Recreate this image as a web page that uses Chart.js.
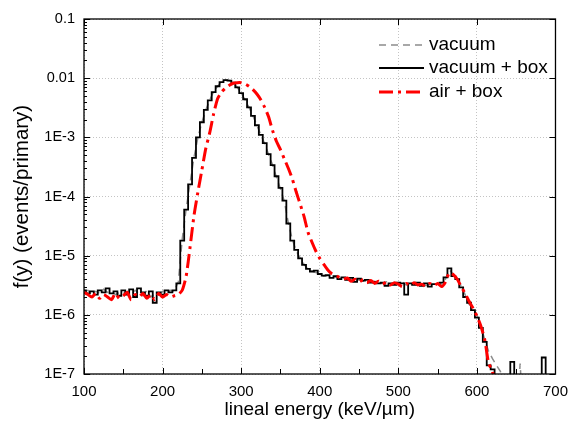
<!DOCTYPE html>
<html>
<head>
<meta charset="utf-8">
<script src="https://cdn.jsdelivr.net/npm/chart.js@4"></script>
<style>
  html, body { margin: 0; padding: 0; background: #fff; }
  canvas { display: block; }
</style>
</head>
<body>
<canvas id="graphCanvas" width="577" height="424"></canvas>
<script>
// bin centres (keV/um)
var energy = [
    100, 105, 110, 115, 120, 125, 130, 135, 140, 145,
    150, 155, 160, 165, 170, 175, 180, 185, 190, 195,
    200, 205, 210, 215, 220, 225, 230, 235, 240, 245,
    250, 255, 260, 265, 270, 275, 280, 285, 290, 295,
    300, 305, 310, 315, 320, 325, 330, 335, 340, 345,
    350, 355, 360, 365, 370, 375, 380, 385, 390, 395,
    400, 405, 410, 415, 420, 425, 430, 435, 440, 445,
    450, 455, 460, 465, 470, 475, 480, 485, 490, 495,
    500, 505, 510, 515, 520, 525, 530, 535, 540, 545,
    550, 555, 560, 565, 570, 575, 580, 585, 590, 595,
    600, 605, 610, 615, 620, 625, 630, 635, 640, 645,
    650, 655, 660, 665, 670, 675, 680, 685, 690, 695,
    700
];

// f(y), events/primary  (1e-8 = empty bin, below the axis)
var vacuum = [
    2.5e-6, 2.6e-6, 2.2e-6, 2.5e-6, 2.3e-6, 2.7e-6, 2.4e-6, 2.5e-6, 2.2e-6, 2.4e-6,
    2.3e-6, 2.5e-6, 2.2e-6, 2.6e-6, 2.3e-6, 2.1e-6, 2.6e-6, 2.0e-6, 2.3e-6, 2.2e-6,
    2.5e-6, 2.3e-6, 2.6e-6, 2.5e-6, 3.6e-6, 1.9e-5, 6.2e-5, 1.7e-4, 4.6e-4, 1.0e-3,
    1.8e-3, 2.9e-3, 4.3e-3, 5.9e-3, 7.3e-3, 8.6e-3, 9.3e-3, 9.1e-3, 8.3e-3, 7.0e-3,
    5.6e-3, 4.3e-3, 3.2e-3, 2.3e-3, 1.6e-3, 1.1e-3, 7.8e-4, 5.1e-4, 3.4e-4, 2.1e-4,
    1.35e-4, 8.2e-5, 3.6e-5, 1.9e-5, 1.2e-5, 9.2e-6, 7.2e-6, 5.8e-6, 5.5e-6, 5.2e-6,
    5.0e-6, 4.5e-6, 4.6e-6, 4.4e-6, 4.3e-6, 4.1e-6, 4.2e-6, 4.0e-6, 3.9e-6, 3.8e-6,
    3.9e-6, 3.7e-6, 3.8e-6, 3.6e-6, 3.7e-6, 3.5e-6, 3.4e-6, 3.6e-6, 3.3e-6, 3.4e-6,
    3.4e-6, 3.6e-6, 3.2e-6, 3.3e-6, 3.4e-6, 3.2e-6, 3.5e-6, 3.1e-6, 3.3e-6, 3.2e-6,
    3.4e-6, 3.3e-6, 4.0e-6, 5.8e-6, 4.8e-6, 3.9e-6, 3.1e-6, 2.2e-6, 1.5e-6, 1.3e-6,
    1.0e-6, 6.5e-7, 3.8e-7, 2.4e-7, 1.8e-7, 1.4e-7, 1.1e-7, 1e-8, 1e-8, 1e-8,
    1e-8, 1.5e-7, 1e-8, 1e-8, 1e-8, 1e-8, 1e-8, 1e-8, 1e-8, 1e-8,
    1e-8
];

var vacuumBox = [
    2.6e-6, 2.3e-6, 2.5e-6, 2.2e-6, 2.6e-6, 2.4e-6, 2.8e-6, 2.3e-6, 2.5e-6, 2.1e-6,
    2.6e-6, 2.2e-6, 2.7e-6, 2.0e-6, 2.8e-6, 2.4e-6, 2.1e-6, 2.5e-6, 1.6e-6, 2.4e-6,
    2.2e-6, 2.6e-6, 2.4e-6, 2.6e-6, 3.4e-6, 1.8e-5, 6.0e-5, 1.6e-4, 4.5e-4, 1.0e-3,
    1.8e-3, 2.9e-3, 4.2e-3, 5.8e-3, 7.3e-3, 8.6e-3, 9.3e-3, 9.1e-3, 8.4e-3, 7.0e-3,
    5.6e-3, 4.4e-3, 3.2e-3, 2.3e-3, 1.6e-3, 1.1e-3, 8.0e-4, 5.2e-4, 3.4e-4, 2.2e-4,
    1.4e-4, 8.5e-5, 3.5e-5, 1.8e-5, 1.25e-5, 9.0e-6, 7.0e-6, 6.0e-6, 5.4e-6, 5.6e-6,
    4.9e-6, 4.6e-6, 4.7e-6, 4.2e-6, 4.5e-6, 4.0e-6, 4.3e-6, 3.9e-6, 4.2e-6, 3.6e-6,
    4.1e-6, 3.8e-6, 3.9e-6, 3.5e-6, 3.6e-6, 3.4e-6, 3.5e-6, 3.1e-6, 3.4e-6, 3.2e-6,
    3.5e-6, 3.4e-6, 2.2e-6, 3.4e-6, 3.2e-6, 3.5e-6, 3.1e-6, 3.4e-6, 3.0e-6, 3.3e-6,
    3.3e-6, 3.5e-6, 4.3e-6, 6.1e-6, 4.5e-6, 4.0e-6, 2.9e-6, 2.0e-6, 1.6e-6, 1.2e-6,
    9.0e-7, 6.0e-7, 3.5e-7, 1.4e-7, 1.2e-7, 1e-8, 1e-8, 1e-8, 1e-8, 1.6e-7,
    1e-8, 1e-8, 1e-8, 1e-8, 1e-8, 1e-8, 1e-8, 1.9e-7, 1e-8, 1e-8,
    1e-8
];

var airBox = [
    2.4e-6, 2.2e-6, 2.0e-6, 2.3e-6, 1.9e-6, 2.2e-6, 2.0e-6, 1.8e-6, 2.3e-6, 1.9e-6,
    2.1e-6, 2.4e-6, 1.8e-6, 2.2e-6, 2.0e-6, 2.3e-6, 1.9e-6, 2.2e-6, 1.8e-6, 2.3e-6,
    2.0e-6, 2.2e-6, 2.0e-6, 2.1e-6, 2.2e-6, 2.6e-6, 4.5e-6, 1.4e-5, 4.8e-5, 1.2e-4,
    2.8e-4, 6.5e-4, 1.2e-3, 2.5e-3, 4.5e-3, 5.8e-3, 6.8e-3, 7.6e-3, 8.2e-3, 8.4e-3,
    8.4e-3, 8.0e-3, 7.3e-3, 6.4e-3, 5.4e-3, 4.3e-3, 3.2e-3, 2.2e-3, 1.3e-3, 8.5e-4,
    6.2e-4, 4.3e-4, 3.0e-4, 2.0e-4, 1.2e-4, 7.5e-5, 4.6e-5, 2.5e-5, 1.7e-5, 1.2e-5,
    9.0e-6, 7.2e-6, 5.8e-6, 5.0e-6, 4.6e-6, 4.3e-6, 4.0e-6, 4.2e-6, 3.7e-6, 4.0e-6,
    3.6e-6, 3.9e-6, 3.5e-6, 3.8e-6, 3.4e-6, 3.7e-6, 3.3e-6, 3.6e-6, 3.2e-6, 3.5e-6,
    3.3e-6, 3.0e-6, 3.4e-6, 3.1e-6, 3.5e-6, 3.2e-6, 3.3e-6, 3.0e-6, 3.4e-6, 3.1e-6,
    3.4e-6, 3.0e-6, 3.6e-6, 5.2e-6, 4.8e-6, 4.0e-6, 3.0e-6, 2.3e-6, 1.7e-6, 1.3e-6,
    9.5e-7, 6.5e-7, 3.8e-7, 1.5e-7, 1.1e-7, 1e-8, 1e-8, 1e-8, 1e-8, 1e-8,
    1e-8, 1e-8, 1e-8, 1e-8, 1e-8, 1e-8, 1e-8, 1e-8, 1e-8, 1e-8,
    1e-8
];

var xTickValues = [100, 200, 300, 400, 500, 600, 700];
var xMinorValues = [150, 250, 350, 450, 550, 650];
var yTickValues = [1e-7, 1e-6, 1e-5, 1e-4, 1e-3, 0.01, 0.1];
var yTickLabels = ['1E-7', '1E-6', '1E-5', '1E-4', '1E-3', '0.01', '0.1'];

var FONT = "'Liberation Sans', Arial, sans-serif";
Chart.defaults.color = '#000';
Chart.defaults.font.family = FONT;

function points(values) {
    return energy.map(function (x, i) { return { x: x, y: values[i] }; });
}

// box, inward ticks and the legend
var frameAndLegend = {
    id: 'frameAndLegend',
    afterDraw: function (chart) {
        var ctx = chart.ctx;
        var a = chart.chartArea;
        var xs = chart.scales.x, ys = chart.scales.y;
        ctx.save();
        ctx.strokeStyle = '#000';
        ctx.lineWidth = 1.3;
        ctx.strokeRect(a.left, a.top, a.right - a.left, a.bottom - a.top);

        ctx.lineWidth = 1;
        ctx.beginPath();
        xTickValues.forEach(function (v) {
            var px = Math.round(xs.getPixelForValue(v)) + 0.5;
            ctx.moveTo(px, a.bottom); ctx.lineTo(px, a.bottom - 6);
            ctx.moveTo(px, a.top); ctx.lineTo(px, a.top + 6);
        });
        xMinorValues.forEach(function (v) {
            var px = Math.round(xs.getPixelForValue(v)) + 0.5;
            ctx.moveTo(px, a.bottom); ctx.lineTo(px, a.bottom - 5);
        });
        yTickValues.forEach(function (v, i) {
            var py = Math.round(ys.getPixelForValue(v)) + 0.5;
            ctx.moveTo(a.left, py); ctx.lineTo(a.left + 6, py);
            ctx.moveTo(a.right, py); ctx.lineTo(a.right - 6, py);
            if (i < yTickValues.length - 1) {
                for (var m = 2; m <= 9; m++) {
                    var pm = Math.round(ys.getPixelForValue(v * m)) + 0.5;
                    ctx.moveTo(a.left, pm); ctx.lineTo(a.left + 3, pm);
                }
            }
        });
        ctx.stroke();

        // legend
        var rows = [
            { ds: chart.data.datasets[0], y: 45 },
            { ds: chart.data.datasets[1], y: 68 },
            { ds: chart.data.datasets[2], y: 92 }
        ];
        ctx.font = '19px ' + FONT;
        ctx.textBaseline = 'middle';
        ctx.textAlign = 'left';
        rows.forEach(function (r) {
            ctx.beginPath();
            ctx.strokeStyle = r.ds.borderColor;
            ctx.lineWidth = r.ds.borderWidth;
            ctx.setLineDash(r.ds.borderDash || []);
            ctx.moveTo(379, r.y);
            ctx.lineTo(424, r.y);
            ctx.stroke();
            ctx.setLineDash([]);
            ctx.fillStyle = '#000';
            ctx.fillText(r.ds.label, 429, r.y);
        });
        ctx.restore();
    }
};

var chartdata = {
    datasets: [
        {
            label: 'vacuum',
            data: points(vacuum),
            borderColor: '#8c8c8c',
            borderWidth: 1.5,
            borderDash: [7, 5],
            pointRadius: 0,
            fill: false,
            order: 2
        },
        {
            label: 'vacuum + box',
            data: points(vacuumBox),
            borderColor: '#000000',
            borderWidth: 1.8,
            stepped: 'middle',
            pointRadius: 0,
            fill: false,
            order: 1
        },
        {
            label: 'air + box',
            data: points(airBox),
            borderColor: '#ff0000',
            borderWidth: 3,
            borderDash: [14, 5, 3, 5],
            tension: 0.2,
            pointRadius: 0,
            fill: false,
            order: 0
        }
    ]
};

var graphTarget = document.getElementById('graphCanvas');

var LineGraph = new Chart(graphTarget, {
    type: 'line',
    data: chartdata,
    plugins: [frameAndLegend],
    options: {
        responsive: false,
        animation: false,
        devicePixelRatio: 1,
        layout: { padding: { left: 0, top: 19, right: 12, bottom: 0 } },
        plugins: {
            legend: { display: false },
            tooltip: { enabled: false }
        },
        scales: {
            x: {
                type: 'linear',
                min: 100,
                max: 700,
                afterBuildTicks: function (scale) {
                    scale.ticks = xTickValues.map(function (v) { return { value: v }; });
                },
                afterFit: function (scale) { scale.height = 50; },
                ticks: { font: { size: 15 }, padding: 9, maxRotation: 0 },
                grid: { color: '#c4c4c4', lineWidth: 1, drawTicks: false },
                border: { display: false, dash: [1, 2] },
                title: {
                    display: true,
                    text: 'lineal energy (keV/µm)',
                    font: { size: 19 },
                    padding: { top: 0, bottom: 3 }
                }
            },
            y: {
                type: 'logarithmic',
                min: 1e-7,
                max: 0.1,
                afterBuildTicks: function (scale) {
                    scale.ticks = yTickValues.map(function (v) { return { value: v }; });
                },
                afterFit: function (scale) { scale.width = 84; },
                ticks: {
                    font: { size: 14.5 },
                    padding: 9,
                    callback: function (value, index) { return yTickLabels[index]; }
                },
                grid: { color: '#c4c4c4', lineWidth: 1, drawTicks: false },
                border: { display: false, dash: [1, 2] },
                title: {
                    display: true,
                    text: 'f(y) (events/primary)',
                    font: { size: 20.5 },
                    padding: { top: 10, bottom: 0 }
                }
            }
        }
    }
});
</script>
</body>
</html>
